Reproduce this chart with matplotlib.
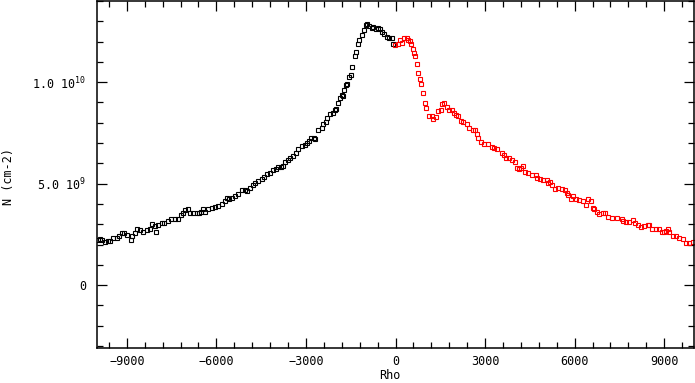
import matplotlib
matplotlib.use('Agg')
import matplotlib.pyplot as plt
from matplotlib.ticker import MultipleLocator, FixedLocator, FixedFormatter

plt.rcParams['font.family'] = ['DejaVu Sans Mono', 'DejaVu Sans']
plt.rcParams['mathtext.default'] = 'regular'

# left half (black), rho / N in units of 1e9 cm-2
rho_left = [-9970, -9900, -9830, -9730, -9630, -9565, -9465, -9335, -9265, -9165,
            -9090, -8990, -8860, -8830, -8730, -8660, -8560, -8455, -8325, -8225,
            -8155, -8060, -8020, -7960, -7820, -7760, -7620, -7515, -7385, -7285,
            -7185, -7125, -7050, -6950, -6890, -6790, -6660, -6590, -6520, -6450,
            -6385, -6285, -6150, -6050, -5950, -5810, -5715, -5645, -5575, -5475,
            -5375, -5270, -5140, -5040, -4980, -4880, -4775, -4705, -4605, -4475,
            -4400, -4300, -4200, -4100, -4000, -3935, -3835, -3765, -3705, -3605,
            -3535, -3435, -3330, -3270, -3130, -3030, -2970, -2900, -2830, -2730,
            -2700, -2600, -2465, -2435, -2335, -2305, -2200, -2100, -2030, -2000,
            -1930, -1860, -1800, -1760, -1730, -1660, -1630, -1555, -1495, -1465,
            -1365, -1325, -1260, -1220, -1120, -1060, -990, -960, -890, -785,
            -755, -655, -585, -525, -455, -380, -280, -220, -120, -90]
n_left = [2.24, 2.25, 2.21, 2.11, 2.16, 2.16, 2.30, 2.30, 2.40, 2.55,
          2.55, 2.45, 2.21, 2.40, 2.55, 2.75, 2.70, 2.60, 2.70, 2.75,
          2.99, 2.89, 2.60, 2.94, 3.04, 3.04, 3.14, 3.24, 3.24, 3.28,
          3.43, 3.53, 3.68, 3.73, 3.53, 3.53, 3.53, 3.53, 3.58, 3.73,
          3.58, 3.77, 3.82, 3.87, 3.92, 4.02, 4.12, 4.31, 4.22, 4.31,
          4.41, 4.51, 4.71, 4.71, 4.66, 4.80, 4.95, 5.05, 5.15, 5.25,
          5.34, 5.49, 5.54, 5.69, 5.74, 5.83, 5.83, 5.88, 6.08, 6.18,
          6.27, 6.37, 6.52, 6.71, 6.86, 6.91, 7.01, 7.11, 7.25, 7.25,
          7.20, 7.65, 7.74, 7.94, 8.04, 8.24, 8.43, 8.48, 8.63, 8.68,
          8.97, 9.21, 9.36, 9.31, 9.61, 9.85, 9.90, 10.25, 10.34, 10.74,
          11.27, 11.47, 11.86, 12.06, 12.30, 12.55, 12.84, 12.89, 12.75, 12.65,
          12.70, 12.60, 12.65, 12.60, 12.45, 12.35, 12.25, 12.20, 12.16, 11.86]

# right half (red)
rho_right = [-15, 85, 155, 215, 285, 385, 415, 490, 520, 590,
             620, 650, 720, 750, 820, 850, 920, 990, 1020, 1120,
             1225, 1255, 1355, 1425, 1525, 1555, 1615, 1715, 1790, 1890,
             1960, 2020, 2090, 2190, 2250, 2395, 2455, 2600, 2660, 2730,
             2760, 2860, 2960, 3095, 3235, 3295, 3400, 3570, 3630, 3700,
             3805, 3905, 4005, 4065, 4135, 4210, 4270, 4340, 4440, 4570,
             4715, 4745, 4845, 4945, 5080, 5110, 5180, 5240, 5340, 5450,
             5585, 5685, 5755, 5785, 5875, 5945, 6050, 6150, 6280, 6380,
             6450, 6550, 6615, 6655, 6755, 6815, 6960, 7020, 7120, 7260,
             7425, 7585, 7625, 7725, 7825, 7960, 8030, 8130, 8230, 8330,
             8465, 8495, 8595, 8730, 8830, 8930, 9000, 9070, 9130, 9170,
             9300, 9400, 9505, 9635, 9735, 9835, 9970]
n_right = [11.81, 11.86, 12.06, 11.91, 12.16, 12.16, 12.06, 12.01, 11.86, 11.62,
           11.42, 11.27, 10.88, 10.44, 10.15, 9.90, 9.46, 8.97, 8.73, 8.33,
           8.33, 8.19, 8.28, 8.58, 8.63, 8.92, 8.97, 8.77, 8.63, 8.63,
           8.48, 8.38, 8.33, 8.09, 8.04, 7.94, 7.74, 7.65, 7.65, 7.45,
           7.25, 7.06, 6.96, 6.96, 6.81, 6.76, 6.71, 6.52, 6.42, 6.27,
           6.27, 6.18, 6.08, 5.78, 5.74, 5.78, 5.88, 5.59, 5.54, 5.44,
           5.44, 5.29, 5.25, 5.20, 5.20, 5.05, 5.10, 4.95, 4.75, 4.80,
           4.75, 4.71, 4.56, 4.46, 4.26, 4.41, 4.26, 4.17, 4.12, 3.97,
           4.22, 4.12, 3.82, 3.73, 3.58, 3.48, 3.53, 3.53, 3.38, 3.33,
           3.33, 3.28, 3.14, 3.09, 3.09, 3.19, 3.04, 2.94, 2.84, 2.89,
           2.94, 2.94, 2.75, 2.75, 2.75, 2.60, 2.60, 2.65, 2.75, 2.60,
           2.40, 2.40, 2.30, 2.25, 2.06, 2.06, 2.11]

ytick_vals = [0, 5e9, 1e10]
ytick_text = ['0', '5.0 10$^{9}$', '1.0 10$^{10}$']

fig = plt.figure(figsize=(6.95, 3.83), dpi=100)
ax = fig.add_axes([97/695, 1 - 348/383, 597/695, 347/383])

mk = dict(linestyle='none', marker='s', markersize=3.2, markeredgewidth=0.8,
          markerfacecolor='none')
ax.plot(rho_left, [v * 1e9 for v in n_left], color='black', markeredgecolor='black', **mk)
ax.plot(rho_right, [v * 1e9 for v in n_right], color='red', markeredgecolor='red', **mk)

ax.set_xlim(-10000, 10000)
ax.set_ylim(-3.1e9, 1.4e10)

ax.xaxis.set_major_locator(MultipleLocator(3000))
ax.xaxis.set_minor_locator(MultipleLocator(600))
ax.yaxis.set_major_locator(FixedLocator(ytick_vals))
ax.yaxis.set_major_formatter(FixedFormatter(ytick_text))
ax.yaxis.set_minor_locator(MultipleLocator(1e9))

ax.tick_params(which='both', direction='in', top=True, right=True, width=0.9,
               labelsize=8.5, colors='black')
ax.tick_params(which='major', length=7)
ax.tick_params(which='minor', length=4)
ax.tick_params(axis='x', pad=5)
ax.tick_params(axis='y', pad=8)
for s in ax.spines.values():
    s.set_linewidth(1.1)

fig.text(390/695, 0.003, 'Rho', ha='center', va='bottom', fontsize=8.5)
fig.text(0.012, 1 - 176/383, 'N (cm-2)', rotation=90, ha='center', va='center', fontsize=8.5)

fig.savefig('out.png', dpi=100)
